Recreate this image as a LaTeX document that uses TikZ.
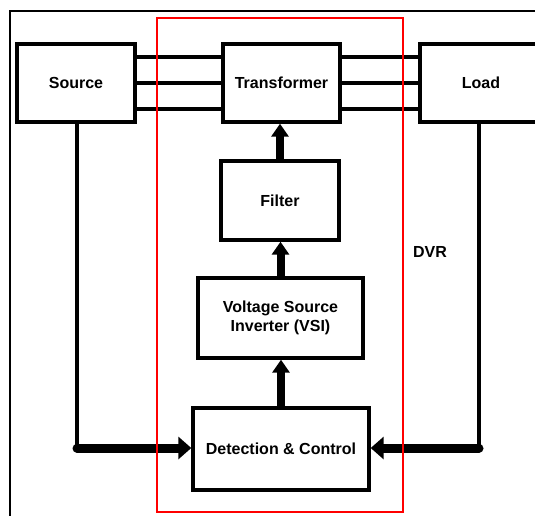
\documentclass[tikz,border=0pt]{standalone}
\usepackage{fontspec}
\setmainfont{Liberation Sans}
\usetikzlibrary{arrows.meta}
\begin{document}
\begin{tikzpicture}[x=1pt,y=-1pt,
  blk/.style={draw=black,line width=3.4pt,fill=white,inner sep=0pt,align=center,
    font=\fontsize{16}{18.5}\selectfont\bfseries},
  wire/.style={line width=3.4pt},
  bigv/.style={line width=8pt,-{Triangle[width=17pt,length=13pt]}},
  bigh/.style={line width=9pt,line cap=round,-{Triangle[width=22pt,length=13pt]}},
  frame/.style={line width=2.4pt}]
\useasboundingbox (0,0) rectangle (535,515);
% outer frame
\draw[frame] (10,540) -- (10,11) -- (545,11);
% blocks
\node[blk,minimum width=118pt,minimum height=78pt] (src) at (76,83) {Source};
\node[blk,minimum width=117pt,minimum height=78pt] (tr) at (281.5,83) {Transformer};
\node[blk,minimum width=122pt,minimum height=78pt] (ld) at (481,83) {Load};
\node[blk,minimum width=118pt,minimum height=79pt] (flt) at (280,200.5) {Filter};
\node[blk,minimum width=165pt,minimum height=80pt] (vsi) at (280.5,318) {Voltage Source\\[1pt]Inverter (VSI)};
\node[blk,minimum width=176pt,minimum height=82pt] (det) at (281,449) {Detection \& Control};
% three-phase lines
\foreach \s in {26,0,-26}{
  \draw[wire] ([yshift=\s pt]src.east) -- ([yshift=\s pt]tr.west);
  \draw[wire] ([yshift=\s pt]tr.east) -- ([yshift=\s pt]ld.west);
}
% vertical power arrows
\draw[bigv] (flt.north) -- (flt.north |- tr.south);
\draw[bigv] (vsi.north) -- (vsi.north |- flt.south);
\draw[bigv] (det.north) -- (det.north |- vsi.south);
% measurement paths
\coordinate (cs) at (77,448);
\coordinate (cl) at (479,448);
\draw[wire] (src.south -| cs) -- (cs);
\draw[wire] (ld.south -| cl) -- (cl);
\draw[bigh] (cs) -- (det.west |- cs);
\draw[bigh] (cl) -- (det.east |- cl);
% DVR boundary
\draw[red,line width=1.5pt] (157,18) rectangle (403,512);
\node[font=\fontsize{16}{18.5}\selectfont\bfseries] (dvr) at (430,252) {DVR};
\end{tikzpicture}
\end{document}
